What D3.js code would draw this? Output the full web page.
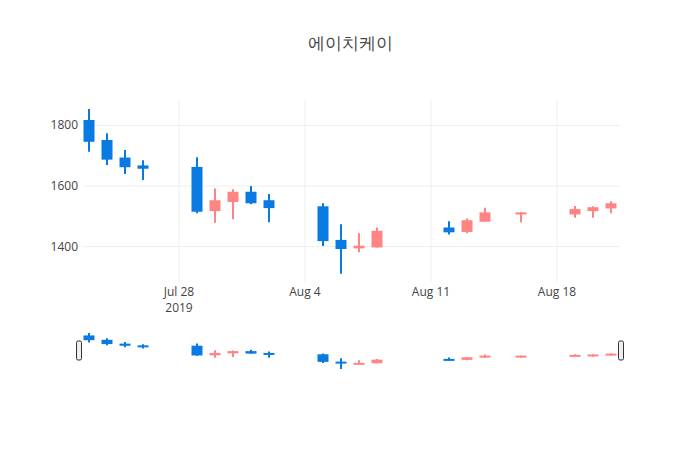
<!DOCTYPE html>
<html><head><meta charset="utf-8">
<script src="https://cdn.jsdelivr.net/npm/d3@7"></script>
<style>body{margin:0;background:#fff}text{font-family:"Open Sans",sans-serif}</style>
</head><body>
<script>
// data
var dates = ["2019-07-23","2019-07-24","2019-07-25","2019-07-26","2019-07-29","2019-07-30","2019-07-31",
  "2019-08-01","2019-08-02","2019-08-05","2019-08-06","2019-08-07","2019-08-08","2019-08-12",
  "2019-08-13","2019-08-14","2019-08-16","2019-08-19","2019-08-20","2019-08-21"];
var open  = [1818,1752,1694,1668,1663,1517,1547,1581,1553,1533,1422,1394,1397,1463,1448,1482,1506,1506,1517,1526];
var close = [1746,1687,1662,1657,1515,1553,1581,1543,1527,1418,1392,1403,1452,1447,1487,1513,1513,1524,1530,1543];
var high  = [1854,1774,1719,1685,1695,1592,1589,1600,1574,1543,1474,1444,1463,1484,1493,1528,1514,1534,1533,1550];
var low   = [1713,1669,1640,1620,1510,1479,1490,1540,1480,1402,1310,1381,1397,1440,1444,1482,1480,1495,1495,1510];
var yTicks = [1400, 1600, 1800];

var parse = d3.timeParse("%Y-%m-%d");
var data = dates.map(function(d, i) {
  return {date: parse(d), o: open[i], c: close[i], h: high[i], l: low[i]};
});

var W = 700, H = 450;
var upColor = "#ff8585", downColor = "#0a7ae3";

var svg = d3.select("body").append("svg").attr("width", W).attr("height", H);

var x = d3.scaleTime()
    .domain([new Date(2019, 6, 22, 16), new Date(2019, 7, 21, 12)])
    .range([83, 620]);
var y = d3.scaleLinear().domain([1283, 1884]).range([282, 100]);
var ys = d3.scaleLinear().domain([1295, 1870]).range([370, 332]);

// title
svg.append("text").attr("x", 350).attr("y", 49).attr("text-anchor", "middle")
  .attr("font-size", 17).attr("fill", "#444").text("에이치케이");

// grid
var xTicks = [new Date(2019,6,28), new Date(2019,7,4), new Date(2019,7,11), new Date(2019,7,18)];
svg.append("g").selectAll("line").data(xTicks).enter().append("line")
  .attr("x1", x).attr("x2", x).attr("y1", 100).attr("y2", 282)
  .attr("stroke", "#eee");
svg.append("g").selectAll("line").data(yTicks).enter().append("line")
  .attr("x1", 83).attr("x2", 620).attr("y1", y).attr("y2", y)
  .attr("stroke", "#eee");

// axis labels
var fmt = d3.timeFormat("%b %-d");
var xl = svg.append("g");
xl.selectAll("text").data(xTicks).enter().append("text")
  .attr("x", x).attr("y", 296).attr("text-anchor", "middle")
  .attr("font-size", 12).attr("fill", "#444").text(fmt);
xl.append("text").attr("x", x(xTicks[0])).attr("y", 312).attr("text-anchor", "middle")
  .attr("font-size", 12).attr("fill", "#444").text("2019");
svg.append("g").selectAll("text").data(yTicks).enter().append("text")
  .attr("x", 78).attr("y", function(d) { return y(d) + 4; }).attr("text-anchor", "end")
  .attr("font-size", 12).attr("fill", "#444").text(function(d) { return d; });

function candles(g, yy, bw) {
  var c = g.selectAll("g").data(data).enter().append("g");
  c.append("line")
    .attr("x1", function(d) { return x(d.date); }).attr("x2", function(d) { return x(d.date); })
    .attr("y1", function(d) { return yy(d.h); }).attr("y2", function(d) { return yy(d.l); })
    .attr("stroke", function(d) { return d.c >= d.o ? upColor : downColor; }).attr("stroke-width", 2);
  c.append("rect")
    .attr("x", function(d) { return x(d.date) - bw / 2; }).attr("width", bw)
    .attr("y", function(d) { return yy(Math.max(d.o, d.c)); })
    .attr("height", function(d) { return Math.max(2, Math.abs(yy(d.o) - yy(d.c))); })
    .attr("fill", function(d) { return d.c >= d.o ? upColor : downColor; });
}
candles(svg.append("g"), y, 11);
candles(svg.append("g"), ys, 11);

// range slider handles
[79, 621].forEach(function(hx) {
  svg.append("rect").attr("x", hx - 2.5).attr("y", 341).attr("width", 5).attr("height", 19)
    .attr("rx", 1.5).attr("fill", "#eee").attr("stroke", "#333").attr("stroke-width", 1);
});
</script>
</body></html>
